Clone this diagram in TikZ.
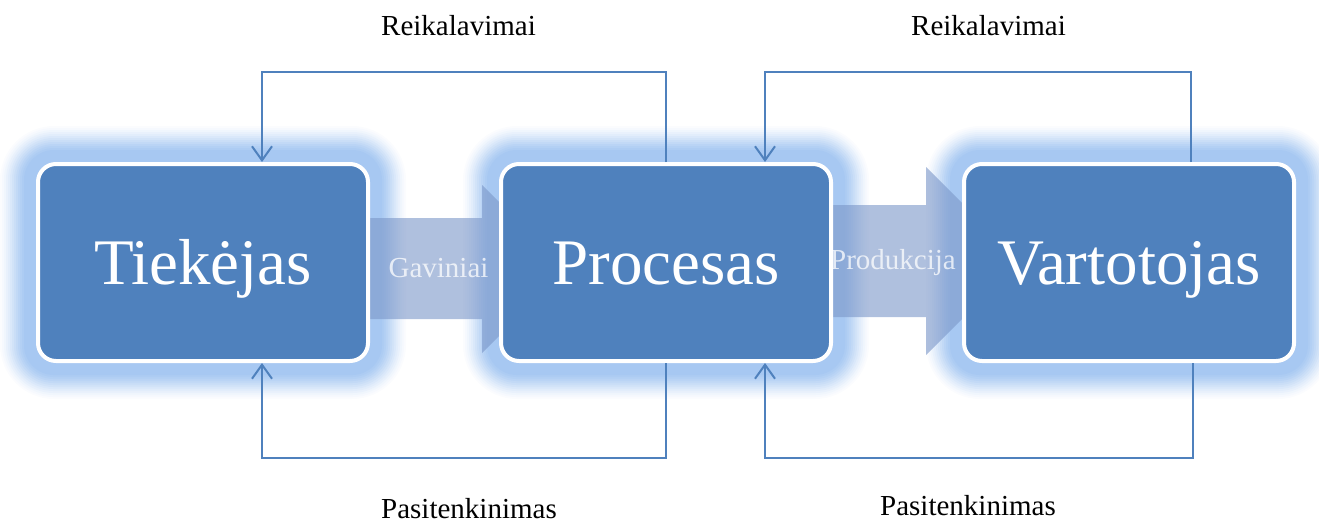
\documentclass[tikz,border=0pt]{standalone}
\usepackage{fontspec}
\setmainfont{Liberation Serif}
\usetikzlibrary{arrows.meta}

\definecolor{boxblue}{RGB}{79,129,189}
\definecolor{glowblue}{RGB}{167,200,242}
\definecolor{flowfill}{RGB}{122,150,200}

\pgfdeclarelayer{back}
\pgfdeclarelayer{flow}
\pgfsetlayers{back,flow,main}

\tikzset{
  stage/.style={draw=white, line width=4pt, fill=boxblue, rounded corners=18pt,
    minimum width=330pt, minimum height=197pt, inner sep=0pt, text=white,
    font=\fontsize{65}{78}\selectfont, text height=43pt, text depth=0pt},
  conn/.style={draw=boxblue, line width=2pt},
  tipped/.style={conn, -{Straight Barb[length=14pt,width=20pt]}},
  lbl/.style={font=\fontsize{29}{34}\selectfont, anchor=base, inner sep=0pt},
  flowlbl/.style={lbl, text=white, text opacity=0.75},
  flowarrow/.style={fill=flowfill, fill opacity=0.6},
}

\begin{document}
\begin{tikzpicture}[x=1pt, y=-1pt]
  \useasboundingbox (0,0) rectangle (1319,523);

  % the three stages
  \node[stage] (t) at (203,262.5) {Tiekėjas};
  \node[stage] (p) at (666,262.5) {Procesas};
  \node[stage] (v) at (1129,262.5) {Vartotojas};

  % soft halo round each stage
  \begin{pgfonlayer}{back}
    \foreach \n in {t,p,v}{
      \foreach \e/\q [evaluate=\e as \r using 18+\e] in
        {36/5, 34/10, 32/17, 30/25, 28/33, 26/42, 24/51, 22/60, 20/69,
         18/78, 16/86, 14/93, 12/100}{
        \fill[glowblue!\q!white, rounded corners=\r pt]
          ([shift={(-\e,\e)}]\n.south west) rectangle ([shift={(\e,-\e)}]\n.north east);
      }
    }
  \end{pgfonlayer}

  % flow arrows between the stages
  \begin{pgfonlayer}{flow}
    \fill[flowarrow] (365,218) -- (482,218) -- (482,185) -- (566,269)
      -- (482,353) -- (482,319) -- (365,319) -- cycle;
    \fill[flowarrow] (822,205) -- (926,205) -- (926,167) -- (1020,261)
      -- (926,355) -- (926,317) -- (822,317) -- cycle;
  \end{pgfonlayer}

  \node[flowlbl] (gav) at (438.5,277) {Gaviniai};
  \node[flowlbl] (prod) at (893,269) {Produkcija};

  % feedback loops
  \coordinate (rtop) at (0,72);
  \coordinate (rbot) at (0,458);

  \draw[tipped] (p.north) -- (p.north |- rtop) -| ([xshift=59pt]t.north);
  \draw[tipped] ([xshift=62pt]v.north) -- ([xshift=62pt]v.north |- rtop)
    -| ([xshift=99pt]p.north);
  \draw[tipped] (p.south) -- (p.south |- rbot) -| ([xshift=59pt]t.south);
  \draw[tipped] ([xshift=64pt]v.south) -- ([xshift=64pt]v.south |- rbot)
    -| ([xshift=99pt]p.south);

  % loop labels
  \node[lbl] (req1) at (458.5,35) {Reikalavimai};
  \node[lbl] (req2) at (988.5,35) {Reikalavimai};
  \node[lbl] (sat1) at (469,518) {Pasitenkinimas};
  \node[lbl] (sat2) at (968,515) {Pasitenkinimas};
\end{tikzpicture}
\end{document}
